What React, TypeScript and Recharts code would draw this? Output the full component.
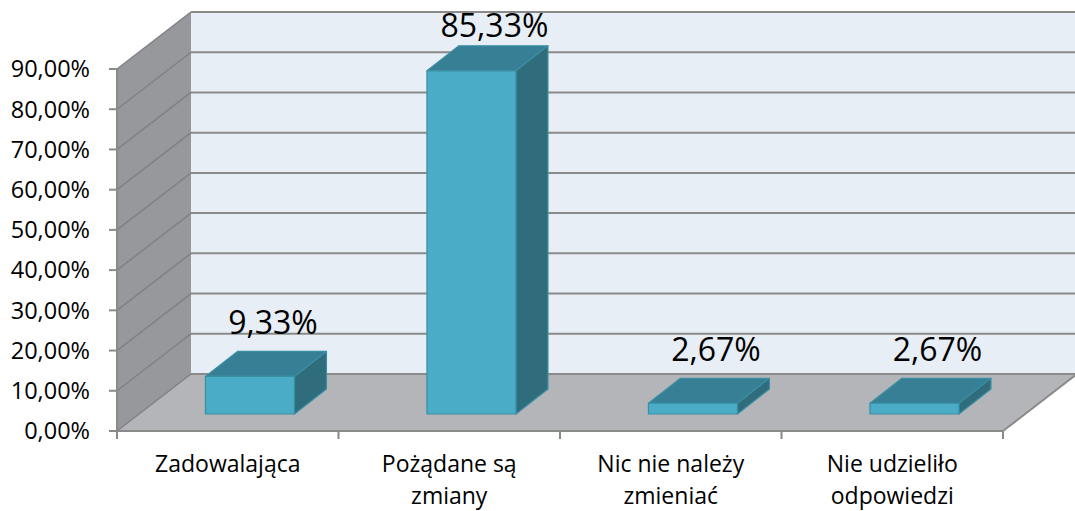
import { BarChart, Bar, XAxis, YAxis, ReferenceArea, ReferenceLine, LabelList } from 'recharts';

const categories = ['Zadowalająca', 'Pożądane są zmiany', 'Nic nie należy zmieniać', 'Nie udzieliło odpowiedzi'];
const values = [0.0933, 0.8533, 0.0267, 0.0267];
const yTicks = [0, 0.1, 0.2, 0.3, 0.4, 0.5, 0.6, 0.7, 0.8, 0.9];
const categoryLines = [
  ['Zadowalająca'],
  ['Pożądane są', 'zmiany'],
  ['Nic nie należy', 'zmieniać'],
  ['Nie udzieliło', 'odpowiedzi'],
];

const data = categories.map((name, i) => ({ name, value: values[i] }));

const FONT = '"Open Sans", sans-serif';
// depth of the 3d box and of the bars
const DEPTH_X = 74;
const DEPTH_Y = -57;
const BAR_X = 22;
const BAR_Y = -17;
const BAR_DX = 32;
const BAR_DY = -25;

const pct = (v: number) => (v * 100).toFixed(2).replace('.', ',') + '%';

function Walls(props: any) {
  const { x, y, width, height } = props;
  const bottom = y + height;
  const right = x + width;
  const n = categories.length;
  return (
    <g>
      {/* back wall */}
      <rect x={x + DEPTH_X} y={y + DEPTH_Y} width={width} height={height} fill="#e8eef6" />
      {/* left wall */}
      <polygon
        points={`${x},${y} ${x + DEPTH_X},${y + DEPTH_Y} ${x + DEPTH_X},${bottom + DEPTH_Y} ${x},${bottom}`}
        fill="#96989b"
      />
      {/* floor */}
      <polygon
        points={`${x},${bottom} ${x + DEPTH_X},${bottom + DEPTH_Y} ${right + DEPTH_X},${bottom + DEPTH_Y} ${right},${bottom}`}
        fill="#b3b5b8"
      />
      <line x1={right} y1={bottom} x2={right + DEPTH_X} y2={bottom + DEPTH_Y} stroke="#8a8a8a" strokeWidth={2} />
      {Array.from({ length: n + 1 }).map((_, i) => (
        <line
          key={i}
          x1={x + (i * width) / n}
          x2={x + (i * width) / n}
          y1={bottom}
          y2={bottom + 8}
          stroke="#8a8a8a"
          strokeWidth={2}
        />
      ))}
    </g>
  );
}

function GridLine(props: any) {
  const { x1, y1, x2 } = props;
  return (
    <g>
      <line x1={x1} y1={y1} x2={x1 + DEPTH_X} y2={y1 + DEPTH_Y} stroke="#7f8184" strokeWidth={1.5} />
      <line x1={x1 + DEPTH_X} y1={y1 + DEPTH_Y} x2={x2 + DEPTH_X} y2={y1 + DEPTH_Y} stroke="#8a8a8a" strokeWidth={2} />
    </g>
  );
}

function Bar3D(props: any) {
  const { x, y, width, height } = props;
  const fx = x + BAR_X;
  const fy = y + BAR_Y;
  const fb = fy + height;
  const fr = fx + width;
  return (
    <g stroke="#3a8ea4" strokeWidth={1.2} strokeLinejoin="round">
      <polygon
        points={`${fx},${fy} ${fx + BAR_DX},${fy + BAR_DY} ${fr + BAR_DX},${fy + BAR_DY} ${fr},${fy}`}
        fill="#377f94"
      />
      <polygon
        points={`${fr},${fy} ${fr + BAR_DX},${fy + BAR_DY} ${fr + BAR_DX},${fb + BAR_DY} ${fr},${fb}`}
        fill="#306d7c"
      />
      <rect x={fx} y={fy} width={width} height={height} fill="#4aacc6" />
    </g>
  );
}

function ValueLabel(props: any) {
  const { x, y, width, value } = props;
  // keep the tallest label inside the picture
  const baseline = Math.max(y + BAR_Y + BAR_DY - 17, 37);
  return (
    <text
      x={x + width / 2 + BAR_X + 23}
      y={baseline}
      textAnchor="middle"
      fontFamily={FONT}
      fontSize={32}
      fill="#000"
    >
      {pct(value)}
    </text>
  );
}

function CategoryTick(props: any) {
  const { x, y, index } = props;
  const lines = categoryLines[index] || [];
  return (
    <text x={x} y={y} textAnchor="middle" fontFamily={FONT} fontSize={23} fill="#000">
      {lines.map((l: string, i: number) => (
        <tspan key={i} x={x} dy={i === 0 ? 33 : 32}>
          {l}
        </tspan>
      ))}
    </text>
  );
}

export default function App() {
  return (
    <div style={{ position: 'absolute', left: 0, top: 0, width: 1075, height: 511, background: '#fff' }}>
      <BarChart
        width={1075}
        height={511}
        data={data}
        margin={{ top: 69, right: 72, bottom: 0, left: 0 }}
        barCategoryGap="30%"
      >
        <ReferenceArea y1={0} y2={0.9} ifOverflow="visible" shape={<Walls />} zIndex={-200} />
        {yTicks.map((t) => (
          <ReferenceLine key={t} y={t} ifOverflow="visible" shape={<GridLine />} zIndex={-150} />
        ))}
        <XAxis
          dataKey="name"
          height={80}
          axisLine={{ stroke: '#8a8a8a', strokeWidth: 2 }}
          tickLine={false}
          tick={<CategoryTick />}
          interval={0}
        />
        <YAxis
          width={117}
          domain={[0, 0.9]}
          ticks={yTicks}
          interval={0}
          tickFormatter={pct}
          axisLine={{ stroke: '#8a8a8a', strokeWidth: 2 }}
          tickLine={{ stroke: '#8a8a8a', strokeWidth: 2 }}
          tickSize={8}
          tickMargin={19}
          tick={{ fontFamily: FONT, fontSize: 23.5, fill: '#000' }}
        />
        <Bar dataKey="value" shape={<Bar3D />} isAnimationActive={false}>
          <LabelList dataKey="value" content={<ValueLabel />} />
        </Bar>
      </BarChart>
    </div>
  );
}
